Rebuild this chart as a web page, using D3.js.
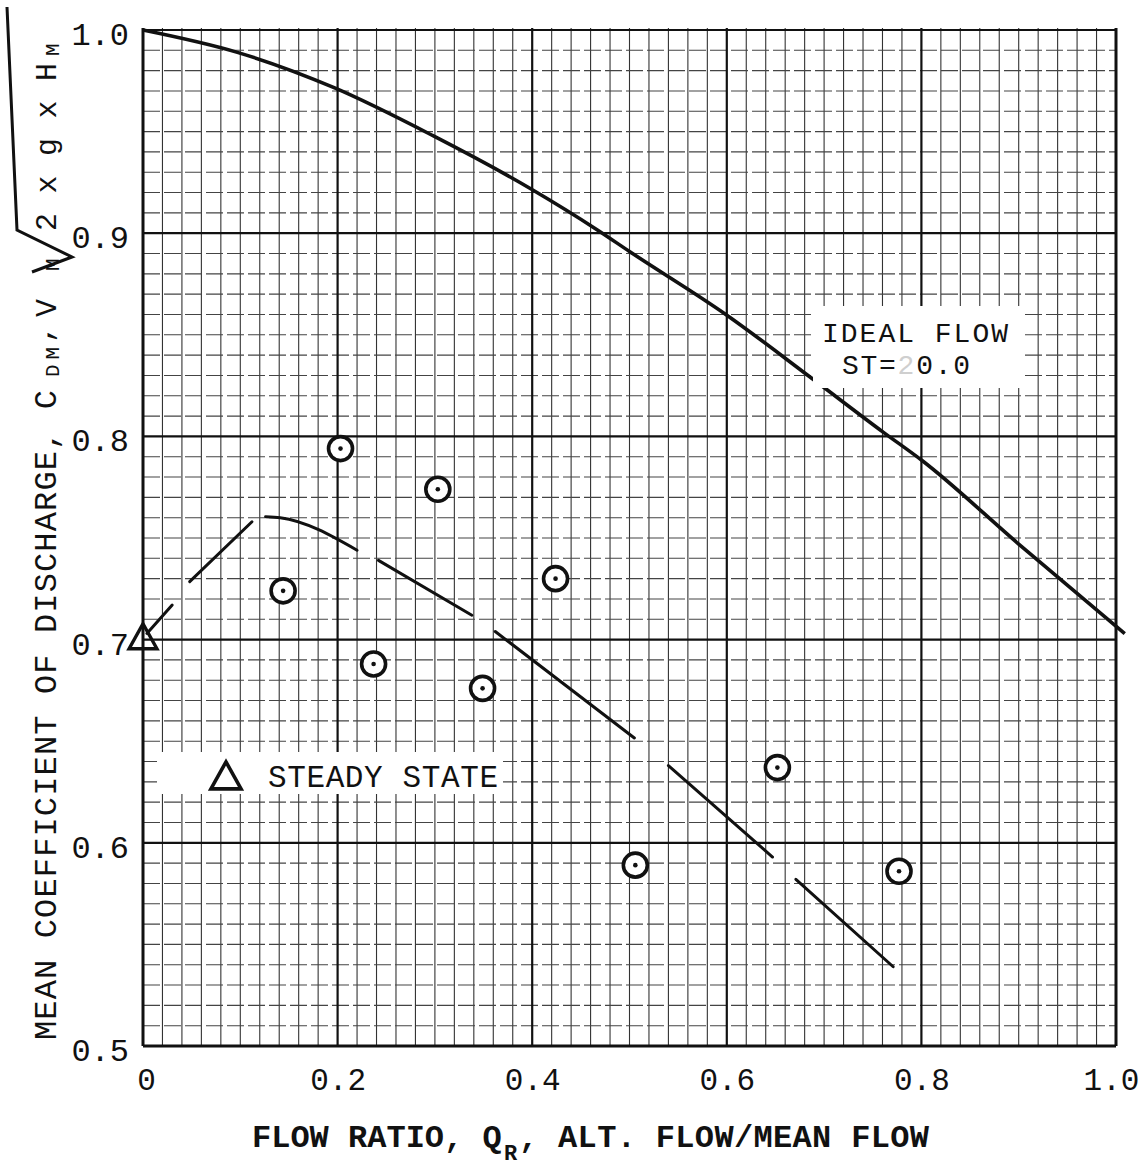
<!DOCTYPE html>
<html>
<head>
<meta charset="utf-8">
<script src="https://cdn.jsdelivr.net/npm/d3@7"></script>
<style>
  body { margin: 0; background: #fff; }
  svg { display: block; background: #fff; }
  text { font-family: "Liberation Mono", "DejaVu Sans Mono", monospace; fill: #111; }
</style>
</head>
<body>
<svg id="chart" width="1145" height="1166"></svg>
<script>
// ---- data -------------------------------------------------------------
const xTickValues = [0, 0.2, 0.4, 0.6, 0.8, 1.0];
const xTickLabels = ["0", "0.2", "0.4", "0.6", "0.8", "1.0"];
const yTickValues = [0.5, 0.6, 0.7, 0.8, 0.9, 1.0];
const yTickLabels = ["0.5", "0.6", "0.7", "0.8", "0.9", "1.0"];

// Ideal flow curve, ST = 20.0
const idealFlowRatio = [0, 0.097, 0.197, 0.298, 0.398, 0.467, 0.5, 0.599, 0.689, 0.761, 0.801, 0.9, 1.009];
const idealCdm       = [1.000, 0.989, 0.9715, 0.948, 0.922, 0.9016, 0.891, 0.860, 0.828, 0.802, 0.788, 0.747, 0.703];

// Measured mean coefficients of discharge
const measuredFlowRatio = [0.144, 0.203, 0.237, 0.303, 0.349, 0.424, 0.506, 0.652, 0.777];
const measuredCdm       = [0.724, 0.794, 0.688, 0.774, 0.676, 0.730, 0.589, 0.637, 0.586];

// Steady-state value
const steadyFlowRatio = [0];
const steadyCdm       = [0.70];

// Faired curve through the measurements, drawn as broken strokes
const fairedSegments = [
  [[0.004, 0.703], [0.030, 0.717]],
  [[0.048, 0.7285], [0.112, 0.758]],
  [[0.126, 0.7605], [0.141, 0.760], [0.220, 0.744]],
  [[0.242, 0.739], [0.338, 0.712]],
  [[0.362, 0.704], [0.505, 0.6516]],
  [[0.540, 0.638], [0.647, 0.593]],
  [[0.671, 0.582], [0.771, 0.539]]
];

// ---- scales -----------------------------------------------------------
const svg = d3.select("#chart");
const x = d3.scaleLinear().domain([0, 1]).range([143, 1116]);
const y = d3.scaleLinear().domain([0.5, 1]).range([1046, 30]);

// ---- graph paper grid -------------------------------------------------
const grid = svg.append("g");
const xMinor = d3.range(0, 1.0001, 0.02);
const yMinor = d3.range(0.5, 1.0001, 0.01);
const isMajorX = v => Math.abs(v / 0.2 - Math.round(v / 0.2)) < 1e-6;
const isMajorY = v => Math.abs(v / 0.1 - Math.round(v / 0.1)) < 1e-6;

grid.selectAll("line.vminor").data(xMinor.filter(v => !isMajorX(v)))
  .join("line")
  .attr("x1", d => x(d)).attr("x2", d => x(d))
  .attr("y1", y(1) - 2).attr("y2", y(0.5))
  .attr("stroke", "#333").attr("stroke-width", 1.1);

grid.selectAll("line.hminor").data(yMinor.filter(v => !isMajorY(v)))
  .join("line")
  .attr("x1", x(0)).attr("x2", x(1))
  .attr("y1", d => y(d)).attr("y2", d => y(d))
  .attr("stroke", "#444").attr("stroke-width", 1.1)
  .attr("stroke-dasharray", "17,4");

grid.selectAll("line.vmajor").data(xTickValues)
  .join("line")
  .attr("x1", d => x(d)).attr("x2", d => x(d))
  .attr("y1", y(1) - 2).attr("y2", y(0.5))
  .attr("stroke", "#111").attr("stroke-width", d => (d === 0 || d === 1) ? 3 : 2.2);

grid.selectAll("line.hmajor").data(yTickValues)
  .join("line")
  .attr("x1", x(0)).attr("x2", x(1))
  .attr("y1", d => y(d)).attr("y2", d => y(d))
  .attr("stroke", "#111").attr("stroke-width", d => d === 0.5 ? 3.2 : 2.2);

// ---- ideal flow curve -------------------------------------------------
const idealPts = idealFlowRatio.map((v, i) => [v, idealCdm[i]]);
const line = d3.line().x(d => x(d[0])).y(d => y(d[1])).curve(d3.curveMonotoneX);
svg.append("path").attr("d", line(idealPts))
  .attr("fill", "none").attr("stroke", "#111").attr("stroke-width", 3.6);

// ---- faired curve -----------------------------------------------------
const segLine = d3.line().x(d => x(d[0])).y(d => y(d[1])).curve(d3.curveMonotoneX);
svg.append("g").selectAll("path").data(fairedSegments).join("path")
  .attr("d", d => segLine(d))
  .attr("fill", "none").attr("stroke", "#111").attr("stroke-width", 3)
  .attr("stroke-linecap", "round");

// ---- label boxes (white patches over the grid) -------------------------
svg.append("rect").attr("x", 813).attr("y", 306).attr("width", 212).attr("height", 82).attr("fill", "#fff");
svg.append("rect").attr("x", 157).attr("y", 752).attr("width", 346).attr("height", 42).attr("fill", "#fff");

const idealLabel = svg.append("g");
idealLabel.append("text").attr("x", 822).attr("y", 342).attr("font-size", 28)
  .attr("textLength", 186).attr("lengthAdjust", "spacing").text("IDEAL FLOW");
const st = idealLabel.append("text").attr("x", 842).attr("y", 374).attr("font-size", 28)
  .attr("textLength", 128).attr("lengthAdjust", "spacing");
st.append("tspan").text("ST=");
st.append("tspan").style("fill", "#cfcfcf").text("2");
st.append("tspan").text("0.0");

// ---- markers ----------------------------------------------------------
const triPath = s => `M0,${-s * 0.62}L${s * 0.58},${s * 0.42}L${-s * 0.58},${s * 0.42}Z`;

svg.append("g").selectAll("path").data(steadyFlowRatio.map((v, i) => [v, steadyCdm[i]]))
  .join("path")
  .attr("transform", d => `translate(${x(d[0])},${y(d[1]) - 1})`)
  .attr("d", triPath(24))
  .attr("fill", "none").attr("stroke", "#111").attr("stroke-width", 3.4)
  .attr("stroke-linejoin", "miter");

const pts = svg.append("g").selectAll("g").data(measuredFlowRatio.map((v, i) => [v, measuredCdm[i]]))
  .join("g").attr("transform", d => `translate(${x(d[0])},${y(d[1])})`);
pts.append("circle").attr("r", 12).attr("fill", "#fff").attr("stroke", "#111").attr("stroke-width", 3.6);
pts.append("circle").attr("r", 2.3).attr("fill", "#111");

// legend
svg.append("path").attr("transform", "translate(226,778)").attr("d", triPath(26))
  .attr("fill", "none").attr("stroke", "#111").attr("stroke-width", 3.6);
svg.append("text").attr("x", 268).attr("y", 787).attr("font-size", 31)
  .attr("textLength", 230).attr("lengthAdjust", "spacing").text("STEADY STATE");

// ---- tick labels ------------------------------------------------------
const xAxis = d3.axisBottom(x).tickValues(xTickValues)
  .tickFormat((d, i) => xTickLabels[i]).tickSize(0).tickPadding(0);
const gx = svg.append("g").attr("transform", "translate(0,1090)").call(xAxis);
gx.select(".domain").remove();
gx.selectAll("text").attr("font-size", 31).attr("dy", 0).attr("y", 0)
  .style("font-family", '"Liberation Mono", monospace').attr("fill", "#111")
  .attr("dx", (d, i) => i === 0 ? 3 : (i === xTickValues.length - 1 ? -5 : 0));

const yAxis = d3.axisLeft(y).tickValues(yTickValues)
  .tickFormat((d, i) => yTickLabels[i]).tickSize(0).tickPadding(0);
const gy = svg.append("g").attr("transform", "translate(129,0)").call(yAxis);
gy.select(".domain").remove();
gy.selectAll("text").attr("font-size", 32).attr("dy", "0.36em").attr("y", 3)
  .style("font-family", '"Liberation Mono", monospace').attr("fill", "#111");

// ---- axis titles ------------------------------------------------------
const xt = svg.append("g");
xt.append("text").attr("x", 252).attr("y", 1147).attr("font-size", 32).attr("font-weight", "bold")
  .text("FLOW RATIO, Q");
xt.append("text").attr("x", 504).attr("y", 1160).attr("font-size", 22).attr("font-weight", "bold").text("R");
xt.append("text").attr("x", 519).attr("y", 1147).attr("font-size", 32).attr("font-weight", "bold")
  .attr("textLength", 410).attr("lengthAdjust", "spacing").text(", ALT. FLOW/MEAN FLOW");

// rotated y title: local x = -screenY, local y = screenX
const yt = svg.append("g").attr("transform", "rotate(-90)");
yt.append("text").attr("x", -1040).attr("y", 56).attr("font-size", 32)
  .attr("textLength", 650).attr("lengthAdjust", "spacing").text("MEAN COEFFICIENT OF DISCHARGE, C");
yt.append("text").attr("x", -377).attr("y", 59).attr("font-size", 21)
  .attr("textLength", 30).attr("lengthAdjust", "spacing").text("DM");
yt.append("text").attr("x", -343).attr("y", 52).attr("font-size", 30).text(",");
yt.append("text").attr("x", -317).attr("y", 56).attr("font-size", 30).text("V");
yt.append("text").attr("x", -271).attr("y", 59).attr("font-size", 21).text("M");
yt.append("text").attr("x", -231).attr("y", 56).attr("font-size", 30)
  .attr("textLength", 168).attr("lengthAdjust", "spacing").text("2 x g x H");
yt.append("text").attr("x", -56).attr("y", 59).attr("font-size", 21).text("M");

// radical sign over 2 x g x H_M
svg.append("path").attr("d", "M32,272L72,257L17,230L7,7")
  .attr("fill", "none").attr("stroke", "#111").attr("stroke-width", 3).attr("stroke-linejoin", "miter");
</script>
</body>
</html>
